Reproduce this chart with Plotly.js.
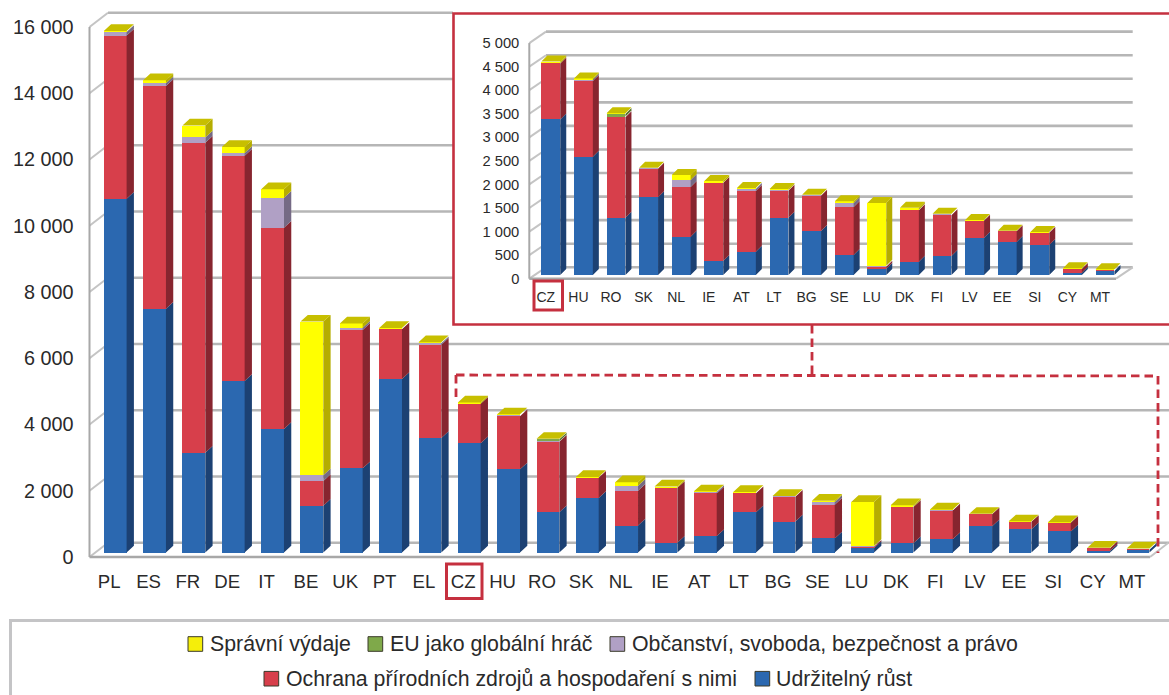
<!DOCTYPE html>
<html><head><meta charset="utf-8">
<script src="https://cdn.plot.ly/plotly-3.0.1.min.js"></script>
<style>html,body{margin:0;padding:0;background:#fff;overflow:hidden}</style>
</head><body><div id="chart" style="width:1169px;height:695px"></div>
<script>
const categories=['PL','ES','FR','DE','IT','BE','UK','PT','EL','CZ','HU','RO','SK','NL','IE','AT','LT','BG','SE','LU','DK','FI','LV','EE','SI','CY','MT'];
const udrzitelnyRust=[10680,7360,3015,5180,3730,1415,2540,5240,3455,3300,2510,1216,1648,813,297,495,1216,934,424,134,283,403,792,700,636,50,85];
const ochrana=[4925,6725,9355,6800,6075,745,4175,1500,2820,1190,1606,2130,608,1054,1655,1287,573,749,1019,43,1089,863,361,226,262,77,14];
const obcanstvi=[110,80,160,80,905,170,70,10,40,5,30,15,5,148,5,43,10,8,84,21,10,21,2,2,2,1,1];
const globalniHrac=[0,0,0,0,0,0,0,0,0,0,0,55,0,0,0,0,0,0,0,0,0,0,0,0,0,0,0];
const spravniVydaje=[30,90,360,180,255,4640,130,30,30,35,25,15,16,107,35,21,26,13,36,1329,47,14,12,12,12,14,20];
const mainTicks=[0,2000,4000,6000,8000,10000,12000,14000,16000];
const insetTicks=[0,500,1000,1500,2000,2500,3000,3500,4000,4500,5000];
const insetStart=categories.indexOf('CZ');

const W=1169,H=695,FONT='"Liberation Sans",Arial,sans-serif',TXT='#2a2a2a',RED='#C5303F',GRID='#b6b6b6',DIAG='#c4c4c4';
const series=[
 {name:'Udržitelný růst',v:udrzitelnyRust,front:'#2B68B0',side:'#1C4173'},
 {name:'Ochrana přírodních zdrojů a hospodaření s nimi',v:ochrana,front:'#D73F4B',side:'#87252F'},
 {name:'Občanství, svoboda, bezpečnost a právo',v:obcanstvi,front:'#B0A0C5',side:'#756A85'},
 {name:'EU jako globální hráč',v:globalniHrac,front:'#7FA94A',side:'#55702A'},
 {name:'Správní výdaje',v:spravniVydaje,front:'#FFFF00',side:'#B5AD00'}
];
const fmt=v=>String(v).replace(/\B(?=(\d{3})+$)/g,' ');
const px=x=>x/W, py=y=>1-y/H;

const panels=[
 {xa:'x',ya:'y',axX:'xaxis',axY:'yaxis',from:0,pitch:39.34,c0:115.2,barW:0.58,scale:0.033125,zero:552.5,
  left:89.5,right:1169,top:12.3,bottom:557,frontEnd:1150,depthX:18.5,depthY:14.3,frontOff:4.5,
  sideX:7.3,sideY:6.7,labelDX:-6,ticks:mainTicks,font:18.6,yfont:19.8,ylabGap:15,xlabGap:11},
 {xa:'x2',ya:'y2',axX:'xaxis2',axY:'yaxis2',from:insetStart,pitch:32.6,c0:550.8,barW:0.58,scale:0.04713,zero:275,
  left:529.3,right:1132.7,top:31.7,bottom:278.7,frontEnd:1116,depthX:16.7,depthY:11.4,frontOff:3.7,
  sideX:6,sideY:6,labelDX:-5,ticks:insetTicks,font:14,yfont:14.7,ylabGap:9,xlabGap:8}
];

const traces=[],layout={width:W,height:H,margin:{l:0,r:0,t:0,b:0},paper_bgcolor:'#fff',plot_bgcolor:'rgba(0,0,0,0)',
 barmode:'stack',showlegend:false,font:{family:FONT,color:TXT},shapes:[],annotations:[]};
const line=(x0,y0,x1,y1,color,width,extra)=>Object.assign({type:'line',xref:'paper',yref:'paper',x0:px(x0),y0:py(y0),x1:px(x1),y1:py(y1),line:{color,width},layer:'below'},extra||{});
const rect=(x0,y0,x1,y1,color,width,fill,layer)=>({type:'rect',xref:'paper',yref:'paper',x0:px(x0),y0:py(y0),x1:px(x1),y1:py(y1),line:{color,width},fillcolor:fill||'rgba(0,0,0,0)',layer:layer||'below'});

function wallShapes(p){
  p.ticks.forEach(t=>{
    const yf=p.bottom-t*p.scale, yb=yf-p.depthY;
    layout.shapes.push(line(p.left,yf,p.left+p.depthX,yb,DIAG,2));
    let end=p.right;
    if(p===panels[0]&&yb<325)end=453;
    layout.shapes.push(line(p.left+p.depthX,yb,end,yb,GRID,2.6));
  });
  const yTop=p.bottom-p.ticks[p.ticks.length-1]*p.scale;
  layout.shapes.push(line(p.left,yTop,p.left,p.bottom,'#a8a8a8',2));
  layout.shapes.push(line(p.left,p.bottom,p.frontEnd,p.bottom,'#a8a8a8',2.4));
  layout.shapes.push(line(p.frontEnd,p.bottom,p.frontEnd+p.depthX,p.bottom-p.depthY,DIAG,2));
}

wallShapes(panels[0]);
layout.shapes.push(rect(453.5,13.5,1175,324.5,RED,2.6,'#fff'));
wallShapes(panels[1]);

panels.forEach(p=>{
  const cats=categories.slice(p.from);
  const xs=cats.map((_,i)=>i);
  const dx=p.sideX/p.pitch, dy=p.sideY/p.scale, hw=p.barW/2;
  const base=xs.map(()=>0);
  series.forEach(s=>{
    const vals=s.v.slice(p.from);
    const sx=[],sy=[];
    vals.forEach((v,i)=>{
      if(v>0){
        const b=base[i],t=b+v,r=i+hw;
        sx.push(r,r+dx,r+dx,r,r,null);
        sy.push(b,b+dy,t+dy,t,b,null);
      }
      base[i]+=v;
    });
    traces.push({type:'bar',x:xs,y:vals,width:p.barW,name:s.name,xaxis:p.xa,yaxis:p.ya,
      marker:{color:s.front,line:{width:0}},hoverinfo:'skip',showlegend:false});
    traces.push({type:'scatter',mode:'lines',x:sx,y:sy,fill:'toself',fillcolor:s.side,line:{width:0,color:s.side},
      xaxis:p.xa,yaxis:p.ya,hoverinfo:'skip',showlegend:false,connectgaps:false});
  });
  const tx=[],ty=[];
  base.forEach((t,i)=>{
    const l=i-hw,r=i+hw;
    tx.push(l,r,r+dx,l+dx,l,null);
    ty.push(t,t,t+dy,t+dy,t,null);
  });
  traces.push({type:'scatter',mode:'lines',x:tx,y:ty,fill:'toself',fillcolor:'#C7BF00',line:{width:0,color:'#C7BF00'},
    xaxis:p.xa,yaxis:p.ya,hoverinfo:'skip',showlegend:false});

  const frontUnits=p.frontOff/p.scale;
  layout[p.axX]={domain:[px(p.left),px(p.right)],range:[(p.left-p.c0)/p.pitch,(p.right-p.c0)/p.pitch],anchor:p.ya,
    showgrid:false,zeroline:false,showline:false,ticks:'',tickmode:'array',
    tickvals:xs.map(i=>i+p.labelDX/p.pitch),ticktext:cats,tickangle:0,ticklabelstandoff:p.xlabGap,
    tickfont:{family:FONT,size:p.font,color:TXT}};
  layout[p.axY]={domain:[py(p.bottom),py(p.top)],range:[(p.zero-p.bottom)/p.scale,(p.zero-p.top)/p.scale],anchor:p.xa,
    showgrid:false,zeroline:false,showline:false,ticks:'',tickmode:'array',
    tickvals:p.ticks.map(t=>t-frontUnits),ticktext:p.ticks.map(fmt),ticklabelstandoff:p.ylabGap,
    tickfont:{family:FONT,size:p.yfont,color:TXT}};
});

/* highlight boxes around CZ, connector, dashed zoom frame */
layout.shapes.push(rect(446.5,564,482,598.5,RED,3,null,'above'));
layout.shapes.push(rect(534,281,562.5,310,RED,3,null,'above'));
const dash={line:{color:RED,width:2.8,dash:'8.5px,5px'},layer:'above'};
layout.shapes.push(line(812,325,812,375,RED,2.8,dash));
layout.shapes.push(line(456,375,1158,376,RED,2.8,dash));
layout.shapes.push(line(456,375,456,399,RED,2.8,dash));
layout.shapes.push(line(1158,376,1158,553,RED,2.8,dash));

/* legend box */
layout.shapes.push(rect(10.5,620.5,1180,705,'#c4c4c6',3,'#fff'));
const legendItems=[
 {s:4,sw:188,tx:208.5,y:644,c:'#F5EE0A'},{s:3,sw:368,tx:388.5,y:644},{s:2,sw:610,tx:630.5,y:644},
 {s:1,sw:264,tx:284.5,y:678.7},{s:0,sw:755,tx:775,y:678.7}
];
legendItems.forEach(it=>{
  layout.shapes.push(rect(it.sw,it.y-7.3,it.sw+14.7,it.y+7.3,'#3a3a2a',1,it.c||series[it.s].front,'above'));
  layout.annotations.push({xref:'paper',yref:'paper',x:px(it.tx),y:py(it.y),xanchor:'left',yanchor:'middle',showarrow:false,
    text:series[it.s].name,borderpad:0,font:{family:FONT,size:21.3,color:TXT}});
});

Plotly.newPlot('chart',traces,layout,{displayModeBar:false,staticPlot:true});
</script></body></html>
